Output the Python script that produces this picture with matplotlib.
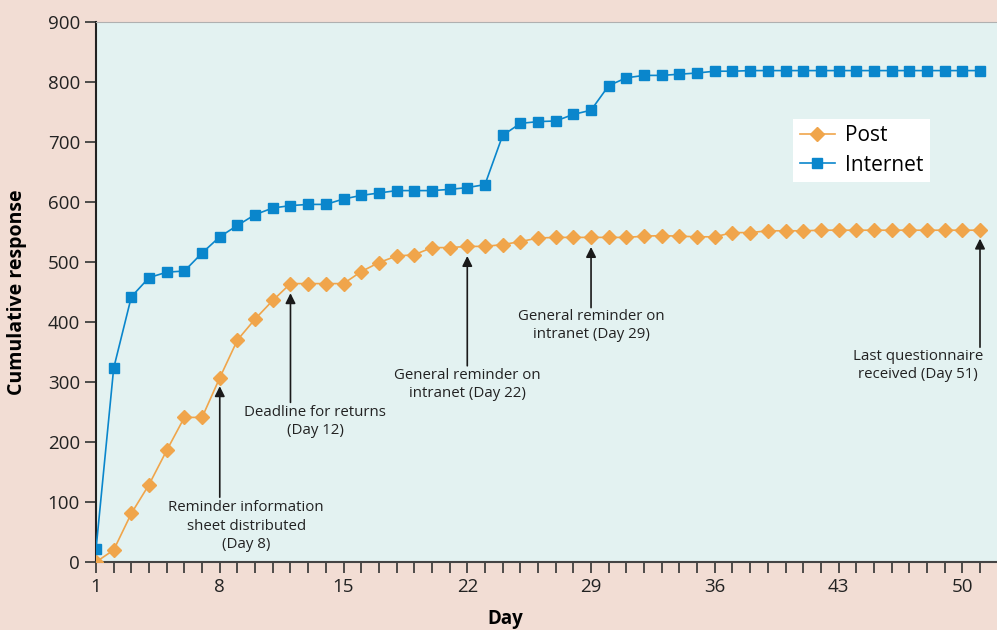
import numpy as np
import matplotlib
matplotlib.use('Agg')
import matplotlib.pyplot as plt

plt.rcParams['font.family'] = ['Open Sans', 'DejaVu Sans']

# Данные
days = list(range(1, 52))
post = [0, 20, 81, 129, 186, 241, 241, 307, 370, 405,
        436, 464, 464, 464, 464, 484, 499, 510, 512, 524,
        524, 526, 526, 529, 534, 540, 541, 541, 541, 541,
        541, 543, 544, 543, 542, 542, 549, 549, 552, 552,
        552, 553, 553, 553, 553, 553, 553, 553, 553, 553, 553]
internet = [21, 323, 442, 474, 483, 485, 515, 542, 561, 579,
            590, 594, 596, 596, 605, 611, 615, 619, 619, 619,
            621, 624, 629, 711, 731, 734, 735, 746, 753, 794,
            807, 811, 811, 813, 815, 818, 818, 819, 819, 819,
            819, 819, 819, 819, 819, 819, 819, 819, 819, 819, 819]
xtick_days = [1, 8, 15, 22, 29, 36, 43, 50]

# (текст, день стрелки, начало, конец, x текста, верх текста)
notes = [
    ('Reminder information\nsheet distributed\n(Day 8)', 8, 108, 293, 9.5, 103),
    ('Deadline for returns\n(Day 12)', 12, 266, 448, 13.4, 262),
    ('General reminder on\nintranet (Day 22)', 22, 327, 510, 22, 324),
    ('General reminder on\nintranet (Day 29)', 29, 424, 525, 29, 422),
    ('Last questionnaire\nreceived (Day 51)', 51, 358, 539, 47.5, 355),
]

orange = '#f0a54b'
blue = '#0a86cc'

fig = plt.figure(figsize=(9.97, 6.30), dpi=100)
fig.patch.set_facecolor('#f2ddd4')
ax = fig.add_axes([96 / 997, 68 / 630, 901 / 997, 540 / 630])
ax.set_facecolor('#e3f2f1')

ax.plot(days, post, color=orange, marker='D', markersize=7.5, linewidth=1.2,
        label='Post', zorder=3)
ax.plot(days, internet, color=blue, marker='s', markersize=7.5, linewidth=1.2,
        label='Internet', zorder=3)

for text, d, y0, y1, tx, ty in notes:
    ax.annotate('', xy=(d, y1), xytext=(d, y0),
                arrowprops=dict(arrowstyle='-|>', color='#1a1a1a', lw=1.2,
                                mutation_scale=15, shrinkA=0, shrinkB=0))
    ax.text(tx, ty, text, ha='center', va='top', fontsize=10.8,
            color='#222222', linespacing=1.3)

ax.set_xlim(1, 1 + 901 / 17.68)
ax.set_ylim(0, 900)
ax.set_xticks(xtick_days)
ax.set_xticks(days, minor=True)
ax.set_yticks(range(0, 901, 100))
ax.tick_params(axis='both', which='both', direction='out', length=8,
               width=1.2, color='#333333', labelsize=13.5, labelcolor='#222222')

ax.spines['right'].set_visible(False)
ax.spines['top'].set_color('#b0b0b0')
ax.spines['left'].set_color('#222222')
ax.spines['bottom'].set_color('#444444')
ax.spines['left'].set_linewidth(1.5)
ax.spines['bottom'].set_linewidth(1.5)

ax.set_xlabel('Day', fontsize=13.5, fontweight='bold')
ax.set_ylabel('Cumulative response', fontsize=14, fontweight='bold')
ax.xaxis.set_label_coords(0.454, -0.087)
ax.yaxis.set_label_coords(-0.0766, 0.5)

leg = ax.legend(loc='upper left', bbox_to_anchor=(0.774, 0.82), fontsize=15,
                frameon=True, fancybox=False, edgecolor='none', facecolor='white',
                framealpha=1, handlelength=1.7, borderpad=0.3, labelspacing=0.4,
                handletextpad=0.5, borderaxespad=0)

fig.savefig('out.png', dpi=100, facecolor=fig.get_facecolor())
